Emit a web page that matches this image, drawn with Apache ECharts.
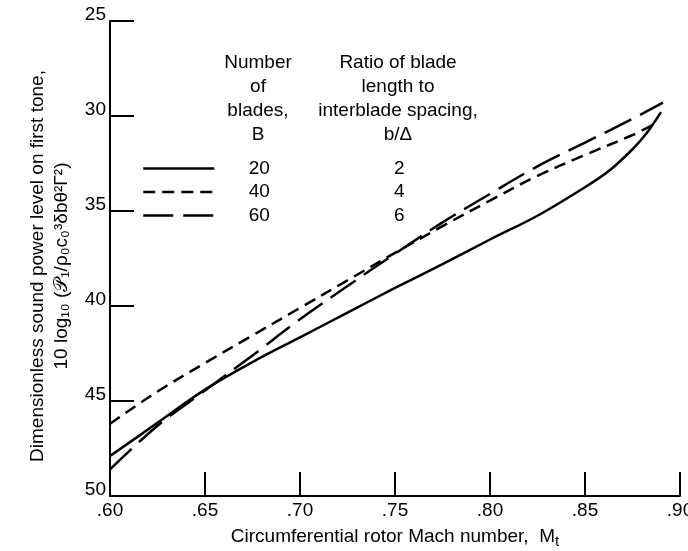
<!DOCTYPE html>
<html>
<head>
<meta charset="utf-8">
<script src="https://cdn.jsdelivr.net/npm/echarts@6/dist/echarts.min.js"></script>
<style>
  html, body { margin: 0; padding: 0; background: #fff; }
  #chart { width: 688px; height: 551px; }
</style>
</head>
<body>
<div id="chart"></div>
<script>
// data
const xTicks = [0.60, 0.65, 0.70, 0.75, 0.80, 0.85, 0.90];
const bladeCounts = ['20', '40', '60'];
const bladeRatios = ['2', '4', '6'];

const mach20 = [0.60, 0.625, 0.65, 0.675, 0.70, 0.725, 0.75, 0.775, 0.80, 0.825, 0.85, 0.8625, 0.875, 0.8825, 0.89];
const level20 = [47.9, 46.15, 44.4, 42.95, 41.65, 40.35, 39.05, 37.8, 36.5, 35.25, 33.75, 32.9, 31.75, 30.9, 29.8];

const mach40 = [0.60, 0.625, 0.65, 0.675, 0.70, 0.725, 0.75, 0.775, 0.80, 0.825, 0.85, 0.875, 0.887];
const level40 = [46.2, 44.5, 43.0, 41.55, 40.1, 38.65, 37.2, 35.8, 34.45, 33.15, 32.05, 31.0, 30.4];

const mach60 = [0.60, 0.625, 0.65, 0.675, 0.70, 0.725, 0.75, 0.775, 0.80, 0.825, 0.85, 0.875, 0.891];
const level60 = [48.6, 46.3, 44.45, 42.6, 40.7, 38.95, 37.25, 35.6, 34.1, 32.65, 31.4, 30.15, 29.3];

const font = "'Liberation Sans', Arial, sans-serif";

const pairs = (xs, ys) => xs.map((x, i) => [x, ys[i]]);

const chart = echarts.init(document.getElementById('chart'));

const lineSeries = (name, xs, ys, dash) => ({
  name: name,
  type: 'line',
  data: pairs(xs, ys),
  symbol: 'none',
  smooth: 0.35,
  color: '#000',
  lineStyle: { color: '#000', width: 2.5, type: dash }
});

var option = {
  backgroundColor: '#fff',
  animation: false,
  grid: { left: 110, right: 8, top: 21, bottom: 55, outerBoundsMode: 'none' },
  xAxis: {
    type: 'value',
    min: 0.60,
    max: 0.90,
    interval: 0.05,
    axisLine: { onZero: false, lineStyle: { color: '#000', width: 2 } },
    axisTick: { inside: true, length: 24, lineStyle: { color: '#000', width: 2 } },
    splitLine: { show: false },
    axisLabel: {
      margin: 5,
      color: '#000',
      fontFamily: font,
      fontSize: 19,
      showMinLabel: true,
      showMaxLabel: true,
      formatter: v => xTicks.some(t => Math.abs(t - v) < 1e-6) ? '.' + Math.round(v * 100) : ''
    },
    name: '{a|Circumferential rotor Mach number,  M}{s|t}',
    nameLocation: 'middle',
    nameGap: 22,
    nameTextStyle: {
      rich: {
        a: { fontFamily: font, fontSize: 19, color: '#000', lineHeight: 22 },
        s: { fontFamily: font, fontSize: 15, color: '#000', padding: [9, 0, 0, 0], lineHeight: 22 }
      }
    }
  },
  yAxis: {
    type: 'value',
    inverse: true,
    min: 25,
    max: 50,
    interval: 5,
    axisLine: { show: true, lineStyle: { color: '#000', width: 2 } },
    axisTick: { show: true, inside: true, length: 24, lineStyle: { color: '#000', width: 2 } },
    splitLine: { show: false },
    axisLabel: {
      margin: 4,
      color: '#000',
      fontFamily: font,
      fontSize: 19,
      verticalAlign: 'bottom',
      lineHeight: 12
    }
  },
  legend: {
    orient: 'vertical',
    left: 142,
    top: 159,
    padding: 0,
    itemWidth: 71,
    itemHeight: 14,
    itemGap: 4.5,
    itemStyle: { color: 'rgba(0,0,0,0)', borderWidth: 0 },
    lineStyle: { width: 2.5 },
    data: bladeCounts,
    formatter: name => '{n|' + name + '}{r|' + bladeRatios[bladeCounts.indexOf(name)] + '}',
    textStyle: {
      color: '#000',
      rich: {
        n: { width: 80, align: 'center', fontFamily: font, fontSize: 19, lineHeight: 19 },
        r: { width: 200, align: 'center', fontFamily: font, fontSize: 19, lineHeight: 19 }
      }
    }
  },
  // table headings + y axis title
  graphic: [
    ...['Number', 'of', 'blades,', 'B'].map((t, i) => ({
      type: 'text', x: 258, y: 63 + i * 24,
      style: { text: t, fontFamily: font, fontSize: 19, fill: '#000', align: 'center', verticalAlign: 'middle' }
    })),
    ...['Ratio of blade', 'length to', 'interblade spacing,', 'b/\u0394'].map((t, i) => ({
      type: 'text', x: 398, y: 63 + i * 24,
      style: { text: t, fontFamily: font, fontSize: 19, fill: '#000', align: 'center', verticalAlign: 'middle' }
    })),
    {
      type: 'text', x: 38, y: 266, rotation: Math.PI / 2,
      style: { text: 'Dimensionless sound power level on first tone,', fontFamily: font, fontSize: 19, fill: '#000', align: 'center', verticalAlign: 'middle' }
    },
    {
      type: 'text', x: 62, y: 266, rotation: Math.PI / 2,
      style: { text: '10 log\u2081\u2080 (\uD835\uDCAB\u2081/\u03C1\u2080c\u2080\u00B3\u03B4b\u03B8\u00B2\u0393\u00B2)', fontFamily: font, fontSize: 19, fill: '#000', align: 'center', verticalAlign: 'middle' }
    }
  ],
  series: [
    lineSeries('20', mach20, level20, 'solid'),
    lineSeries('40', mach40, level40, [12, 7]),
    lineSeries('60', mach60, level60, [30, 10])
  ]
};

chart.setOption(option);
</script>
</body>
</html>
